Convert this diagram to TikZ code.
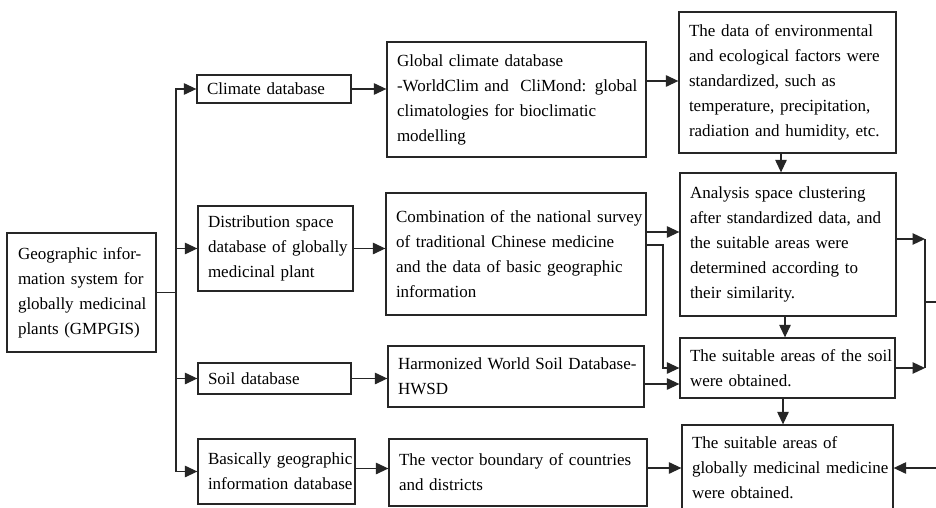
\documentclass[tikz,border=0pt]{standalone}
\usepackage{fontspec}
\setmainfont{Liberation Serif}
\usetikzlibrary{arrows.meta}
\begin{document}
\begin{tikzpicture}[x=1pt,y=-1pt,
  box/.style={draw=black!85, line width=1.3pt, inner xsep=10pt, inner ysep=0pt,
    align=left, anchor=center, font=\fontsize{17}{25}\selectfont},
  arr/.style={draw=black!85, line width=1.2pt, -{Triangle[length=12.5pt,width=11.5pt]}},
  ln/.style={draw=black!85, line width=1.2pt}]
\useasboundingbox (0,0) rectangle (936,508);
\clip (0,0) rectangle (936,508);
\fill[white] (0,0) rectangle (936,508);
% column 1
\node[box, text width=127pt, minimum height=119pt, inner xsep=11pt] (gm) at (81.5,292.5)
  {\mbox{Geographic infor-}\\\mbox{mation system for}\\\mbox{globally medicinal}\\\mbox{plants (GMPGIS)}};
% column 2
\node[box, text width=134pt, minimum height=28pt] (clim) at (274,89) {\mbox{Climate database}};
\node[box, text width=135pt, minimum height=85pt] (dist) at (275.5,248.5)
  {\mbox{Distribution space}\\\mbox{database of globally}\\\mbox{medicinal plant}};
\node[box, text width=133pt, minimum height=31pt] (soil) at (274.5,378.5) {\mbox{Soil database}};
\node[box, text width=137pt, minimum height=65pt] (basic) at (276.5,471.5)
  {\mbox{Basically geographic}\\\mbox{information database}};
% column 3
\node[box, text width=239pt, minimum height=115pt] (glob) at (516.5,99.5)
  {\mbox{Global climate database}\\\mbox{-WorldClim and\ \ CliMond: global}\\\mbox{climatologies for bioclimatic}\\\mbox{modelling}};
\node[box, text width=240pt, minimum height=122pt] (comb) at (516,254)
  {\mbox{Combination of the national survey}\\\mbox{of traditional Chinese medicine}\\\mbox{and the data of basic geographic}\\\mbox{information}};
\node[box, text width=236pt, minimum height=61pt] (hw) at (516,376.5)
  {\mbox{Harmonized World Soil Database-}\\\mbox{HWSD}};
\node[box, text width=238pt, minimum height=67pt] (vec) at (518,472.5)
  {\mbox{The vector boundary of countries}\\\mbox{and districts}};
% column 4
\node[box, text width=197pt, minimum height=141pt] (env) at (787.5,82.5)
  {\mbox{The data of environmental}\\\mbox{and ecological factors were}\\\mbox{standardized, such as}\\\mbox{temperature, precipitation,}\\\mbox{radiation and humidity, etc.}};
\node[box, text width=196pt, minimum height=143pt] (ana) at (788,244.5)
  {\mbox{Analysis space clustering}\\\mbox{after standardized data, and}\\\mbox{the suitable areas were}\\\mbox{determined according to}\\\mbox{their similarity.}};
\node[box, text width=195pt, minimum height=60pt] (ssoil) at (787.5,368)
  {\mbox{The suitable areas of the soil}\\\mbox{were obtained.}};
\node[box, text width=191pt, minimum height=86pt] (final) at (787.5,468)
  {\mbox{The suitable areas of}\\\mbox{globally medicinal medicine}\\\mbox{were obtained.}};
% helper coordinates
\coordinate (tr) at (176,292.5);
\coordinate (y81) at (0,81);
\coordinate (y232) at (0,232);
\coordinate (y245) at (0,245);
\coordinate (y384) at (0,384);
\coordinate (y302) at (0,302);
\coordinate (x663) at (663,0);
\coordinate (x781) at (781,0);
\coordinate (x785) at (785,0);
\coordinate (x783) at (783,0);
\coordinate (rv) at (925,0);
\coordinate (edge) at (940,0);
% trunk
\draw[ln] (gm.east) -- (tr);
\draw[arr] (tr) |- (clim.west);
\draw[arr] (tr) |- (dist.west);
\draw[arr] (tr) |- (soil.west);
\draw[arr] (tr) |- (basic.west);
% col2 -> col3
\draw[arr] (clim.east) -- (clim.east -| glob.west);
\draw[arr] (dist.east) -- (dist.east -| comb.west);
\draw[arr] (soil.east) -- (soil.east -| hw.west);
\draw[arr] ([yshift=3pt]basic.east) -- ([yshift=3pt]basic.east -| vec.west);
% col3 -> col4
\draw[arr] (glob.east |- y81) -- (env.west |- y81);
\draw[arr] (comb.east |- y232) -- (ana.west |- y232);
\draw[arr] (comb.east |- y245) -- (x663 |- y245) -- (x663 |- ssoil.west) -- (ssoil.west);
\draw[arr] (hw.east |- y384) -- (ssoil.west |- y384);
\draw[arr] (vec.east |- final.west) -- (final.west);
% col4 vertical
\draw[arr] (env.south -| x781) -- (ana.north -| x781);
\draw[arr] (ana.south -| x785) -- (ssoil.north -| x785);
\draw[arr] (ssoil.south -| x783) -- (final.north -| x783);
% right loop
\draw[arr] ([yshift=5.5pt]ana.east) -- ([yshift=5.5pt]ana.east -| rv);
\draw[arr] (ssoil.east) -- (ssoil.east -| rv);
\draw[ln] ([yshift=5.5pt]ana.east -| rv) -- (ssoil.east -| rv);
\draw[ln] (rv |- y302) -- (edge |- y302);
\draw[arr] (edge |- final.east) -- (final.east);
\end{tikzpicture}
\end{document}
